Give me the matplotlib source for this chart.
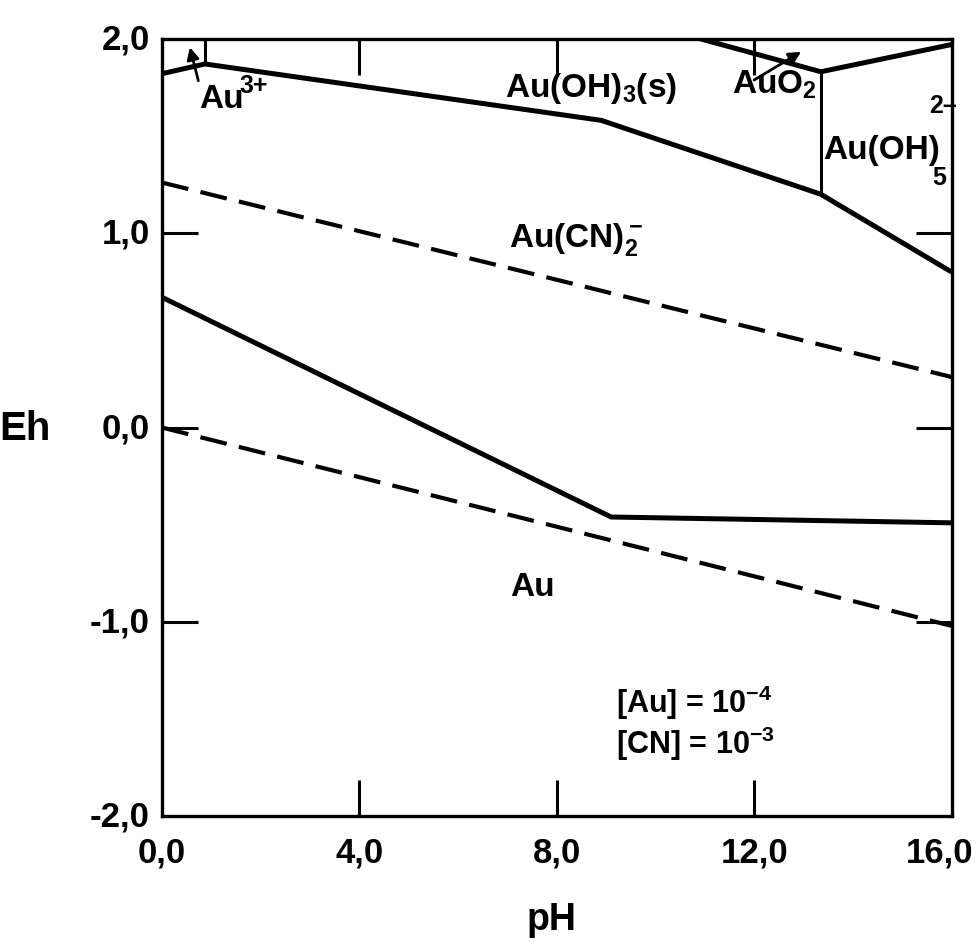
import matplotlib
matplotlib.use("Agg")
from matplotlib import pyplot as plt

plt.rcParams["font.family"] = ["Liberation Sans", "DejaVu Sans"]
plt.rcParams["mathtext.fontset"] = "custom"
plt.rcParams["mathtext.rm"] = "Liberation Sans:bold"
plt.rcParams["mathtext.it"] = "Liberation Sans:bold"
plt.rcParams["mathtext.bf"] = "Liberation Sans:bold"

# boundaries
upper_ph = [0.0, 0.87, 8.9, 13.35, 16.0]
upper_eh = [1.82, 1.87, 1.58, 1.20, 0.80]

au3_ph = [0.87, 0.87]
au3_eh = [1.87, 2.0]

auo2_top_ph = [10.9, 13.35]
auo2_top_eh = [2.0, 1.83]

auo2_vert_ph = [13.35, 13.35]
auo2_vert_eh = [1.20, 1.83]

auoh5_ph = [13.35, 16.0]
auoh5_eh = [1.83, 1.97]

cn_dash_ph = [0.0, 16.0]
cn_dash_eh = [1.26, 0.26]

lower_ph = [0.0, 9.1, 16.0]
lower_eh = [0.67, -0.46, -0.49]

h2o_dash_ph = [0.0, 16.0]
h2o_dash_eh = [0.0, -1.02]

x_ticks = [0, 4, 8, 12, 16]
x_labels = ["0,0", "4,0", "8,0", "12,0", "16,0"]
y_ticks = [2, 1, 0, -1, -2]
y_labels = ["2,0", "1,0", "0,0", "-1,0", "-2,0"]

fig = plt.figure(figsize=(9.76, 9.45), dpi=100)
ax = fig.add_axes([0.166, 0.135, 0.809, 0.823])

solid = dict(color="black", lw=3.6, solid_capstyle="butt", solid_joinstyle="miter")
thin = dict(color="black", lw=2.2)
dash = dict(color="black", lw=3.0, dashes=(6.5, 3))

ax.plot(upper_ph, upper_eh, **solid)
ax.plot(lower_ph, lower_eh, **solid)
ax.plot(au3_ph, au3_eh, **thin)
ax.plot(auo2_top_ph, auo2_top_eh, **solid)
ax.plot(auo2_vert_ph, auo2_vert_eh, **thin)
ax.plot(auoh5_ph, auoh5_eh, **solid)
ax.plot(cn_dash_ph, cn_dash_eh, **dash)
ax.plot(h2o_dash_ph, h2o_dash_eh, **dash)

ax.set_xlim(0, 16)
ax.set_ylim(-2, 2)

ax.set_xticks(x_ticks[1:-1])
ax.set_yticks(y_ticks[1:-1])
ax.tick_params(which="both", direction="in", length=26, width=2.2,
               top=True, right=True)
ax.set_xticklabels([])
ax.set_yticklabels([])
for s in ax.spines.values():
    s.set_linewidth(2.4)

for x, lab in zip(x_ticks, x_labels):
    xx = x - 0.25 if x == 16 else x
    ax.text(xx, -2.1, lab, ha="center", va="top", fontsize=25, fontweight="bold")
for y, lab in zip(y_ticks, y_labels):
    ax.text(-0.25, y, lab, ha="right", va="center", fontsize=25, fontweight="bold")

ax.text(-3.3, 0.0, "Eh", ha="left", va="center", fontsize=29, fontweight="bold")
ax.text(7.9, -2.53, "pH", ha="center", va="center", fontsize=27, fontweight="bold")

lab = dict(fontsize=24, fontweight="bold")
small = dict(fontsize=18, fontweight="bold", clip_on=False)
ax.text(0.75, 1.69, "Au", ha="left", va="center", **lab)
ax.text(1.57, 1.76, "3+", ha="left", va="center", **small)
ax.text(8.7, 1.75, r"Au(OH)$_3$(s)", ha="center", va="center", **lab)
ax.text(11.55, 1.77, r"AuO$_2$", ha="left", va="center", **lab)
ax.text(13.4, 1.43, "Au(OH)", ha="left", va="center", **lab)
ax.text(15.6, 1.29, "5", ha="left", va="center", **small)
ax.text(15.55, 1.66, "2\u2013", ha="left", va="center", **small)
ax.text(8.4, 0.97, r"Au(CN)$_2^-$", ha="center", va="center", **lab)
ax.text(7.5, -0.82, "Au", ha="center", va="center", **lab)
ax.text(9.2, -1.41, r"[Au] = 10$^{-4}$", ha="left", va="center", fontsize=22, fontweight="bold")
ax.text(9.2, -1.62, r"[CN] = 10$^{-3}$", ha="left", va="center", fontsize=22, fontweight="bold")

arrow = dict(arrowstyle="-|>", color="black", lw=2.0, mutation_scale=18)
ax.annotate("", xy=(0.55, 1.97), xytext=(0.75, 1.77), arrowprops=arrow)
ax.annotate("", xy=(13.0, 1.94), xytext=(11.95, 1.78), arrowprops=arrow)

fig.savefig("out.png", dpi=100)
